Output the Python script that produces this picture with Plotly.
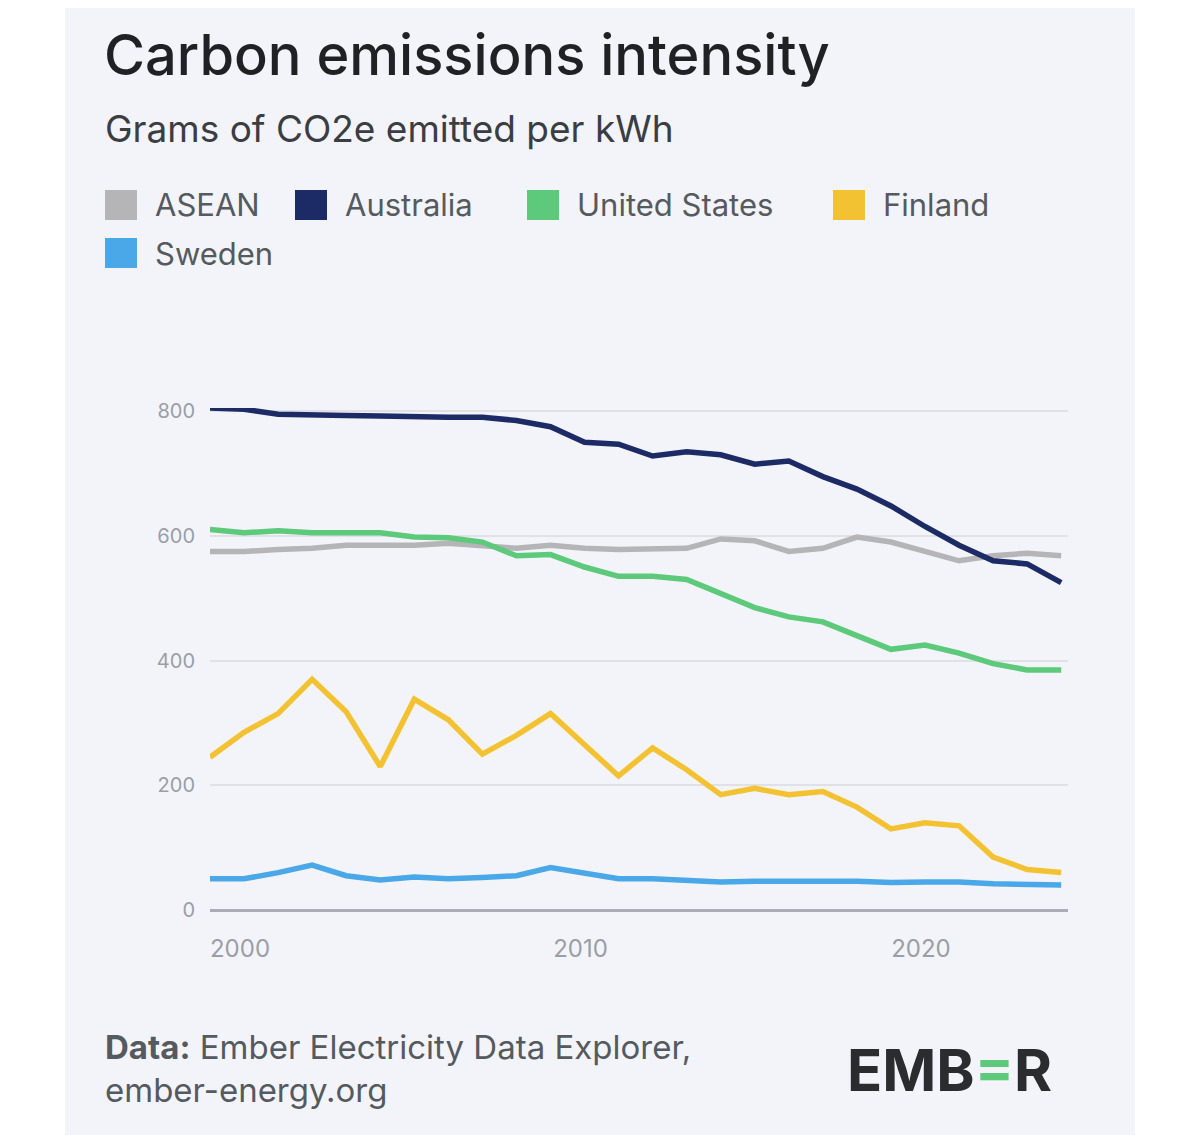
import plotly.graph_objects as go

years = list(range(2000, 2026))
asean = [575,575,578,580,585,585,585,588,585,580,585,580,578,578,580,595,592,575,580,598,590,575,560,568,572,568]
australia = [805,803,795,793,793,792,790,790,790,785,775,750,747,728,735,730,715,720,695,675,648,615,585,560,555,525]
usa = [610,605,608,605,605,605,598,597,590,568,570,550,535,535,530,508,485,470,462,440,418,425,412,395,385,385]
finland = [245,285,315,370,318,230,338,305,250,280,315,265,215,260,225,185,195,185,190,165,130,140,135,85,65,60]
sweden = [50,50,60,72,55,48,53,50,52,55,68,58,50,50,48,45,46,47,46,46,44,45,45,42,40,40]

names = ["ASEAN", "Australia", "United States", "Finland", "Sweden"]
colors = ["#b5b5b8", "#1c2b66", "#5cc97b", "#f3c233", "#4aa8e8"]
series = [asean, australia, usa, finland, sweden]

fig = go.Figure()
for n, c, s in zip(names, colors, series):
    fig.add_trace(go.Scatter(x=years, y=s, name=n, mode="lines",
                             line=dict(color=c, width=5.5), showlegend=False))

W, H = 1200, 1135
OFF = 8
L, T, B, R = 210 - OFF, 408 - OFF, 1135 - 910 + OFF, 1200 - 1068 + OFF
PW, PH = W - L - R, H - T - B
FONT = "Inter, Lato, sans-serif"

def px(x): return (x - OFF - L) / PW
def py(y): return (H - B - (y - OFF)) / PH

shapes = [dict(type="rect", xref="paper", yref="paper", layer="below",
               x0=px(65), x1=px(1135), y0=py(1145), y1=py(-10),
               fillcolor="#f3f4f9", line=dict(width=0))]
annotations = [
    dict(text="Carbon emissions intensity", x=102, y=55, font=dict(size=56, color="#1f2124", weight=500)),
    dict(text="Grams of CO2e emitted per kWh", x=103, y=128, font=dict(size=37, color="#3a3d42")),
    dict(text="<b>Data:</b> Ember Electricity Data Explorer,<br>ember-energy.org", x=103, y=1068,
         font=dict(size=33, color="#555a60")),
    dict(text="<b>EMB<span style='color:#5cc97b'>=</span>R</b>", x=845, y=1070, font=dict(size=58, color="#2a2c30")),
]
leg_pos = [(105, 205), (295, 205), (527, 205), (833, 205), (105, 253)]
for (lx, ly), n, c in zip(leg_pos, names, colors):
    shapes.append(dict(type="rect", xref="paper", yref="paper",
                       x0=px(lx), x1=px(lx + 32), y0=py(ly + 15), y1=py(ly - 15),
                       fillcolor=c, line=dict(width=0)))
    annotations.append(dict(text=n, x=lx + 48, y=ly, font=dict(size=31, color="#555a60")))

anns = []
for a in annotations:
    a = dict(a)
    a.update(xref="paper", yref="paper", xanchor="left", yanchor="middle", showarrow=False, align="left")
    a["x"] = px(a["x"])
    a["y"] = py(a["y"])
    a["font"]["family"] = FONT
    anns.append(a)

fig.update_layout(
    width=W, height=H, paper_bgcolor="white", plot_bgcolor="#f3f4f9",
    margin=dict(l=L, r=R, t=T, b=B), shapes=shapes, annotations=anns,
    font=dict(family=FONT),
    xaxis=dict(range=[2000, 2025.2], tickvals=[2000, 2010, 2020], showgrid=False, zeroline=False,
               tickfont=dict(size=24, color="#9a9ea6"), ticks="", ticklabelstandoff=22,
               ticklabelshift=30),
    yaxis=dict(range=[0, 805], tickvals=[0, 200, 400, 600, 800], gridcolor="#dfe1e7", gridwidth=2,
               zeroline=True, zerolinecolor="#a9adb5", zerolinewidth=3,
               tickfont=dict(size=20, color="#9a9ea6"), ticklabelstandoff=14),
)
fig.write_html("out.html")
